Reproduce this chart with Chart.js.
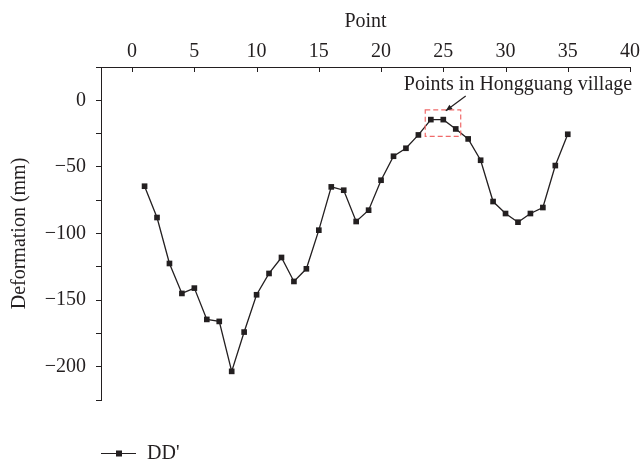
<!DOCTYPE html>
<html>
<head>
<meta charset="utf-8">
<script src="https://cdn.jsdelivr.net/npm/chart.js@4.4.1/dist/chart.umd.min.js"></script>
<style>
  html, body { margin: 0; padding: 0; background: #fff; }
  #wrap { width: 643px; height: 462px; position: relative; }
</style>
</head>
<body>
<div id="wrap"><canvas id="chart"></canvas></div>
<script>
'use strict';

// ── data ───────────────────────────────────────────────────────────────
const points = [1, 2, 3, 4, 5, 6, 7, 8, 9, 10, 11, 12, 13, 14, 15, 16, 17, 18,
  19, 20, 21, 22, 23, 24, 25, 26, 27, 28, 29, 30, 31, 32, 33, 34, 35];
const deformation = [-64.5, -88, -122.5, -145, -141, -164.5, -166, -203.5, -174,
  -146, -130, -118, -136, -126.5, -97.5, -65, -67.5, -91, -82.5, -60,
  -42, -36, -26, -14.5, -14.5, -21.5, -29, -45, -76, -85, -91.5, -85,
  -80.5, -49, -25.5];
const xTickValues = [0, 5, 10, 15, 20, 25, 30, 35, 40];
const yTickValues = [-225, -200, -175, -150, -125, -100, -75, -50, -25, 0, 25];
const yLabelValues = [0, -50, -100, -150, -200];
const seriesName = "DD'";
const noteText = 'Points in Hongguang village';

const INK = '#231f20';
const FONT = "'Liberation Serif', 'DejaVu Serif', serif";
const FS = 20;

// inward tick marks on the top axis, highlight box, arrow, note and legend
const extras = {
  id: 'extras',
  afterDraw(chart) {
    const { ctx, chartArea, scales: { x, y } } = chart;
    ctx.save();

    // x ticks pointing down into the plot
    ctx.strokeStyle = INK;
    ctx.lineWidth = 1;
    xTickValues.forEach(v => {
      const px = Math.round(x.getPixelForValue(v)) + 0.5;
      ctx.beginPath();
      ctx.moveTo(px, chartArea.top);
      ctx.lineTo(px, chartArea.top + 5);
      ctx.stroke();
    });

    // dashed red box around points 24–26
    const bx0 = x.getPixelForValue(23.55), bx1 = x.getPixelForValue(26.4);
    const by0 = y.getPixelForValue(-7.2), by1 = y.getPixelForValue(-27.1);
    ctx.strokeStyle = '#f06a6a';
    ctx.lineWidth = 1.2;
    ctx.setLineDash([5, 3]);
    ctx.strokeRect(bx0, by0, bx1 - bx0, by1 - by0);
    ctx.setLineDash([]);

    // arrow
    const ax0 = x.getPixelForValue(26.8), ay0 = y.getPixelForValue(3.2);
    const ax1 = x.getPixelForValue(25.2), ay1 = y.getPixelForValue(-7.8);
    ctx.strokeStyle = INK;
    ctx.fillStyle = INK;
    ctx.lineWidth = 1.2;
    ctx.beginPath();
    ctx.moveTo(ax0, ay0);
    ctx.lineTo(ax1, ay1);
    ctx.stroke();
    const ang = Math.atan2(ay1 - ay0, ax1 - ax0);
    ctx.beginPath();
    ctx.moveTo(ax1, ay1);
    ctx.lineTo(ax1 - 7 * Math.cos(ang - 0.4), ay1 - 7 * Math.sin(ang - 0.4));
    ctx.lineTo(ax1 - 7 * Math.cos(ang + 0.4), ay1 - 7 * Math.sin(ang + 0.4));
    ctx.closePath();
    ctx.fill();

    // note
    ctx.font = `${FS}px ${FONT}`;
    ctx.textAlign = 'center';
    ctx.textBaseline = 'middle';
    ctx.fillText(noteText, x.getPixelForValue(31.0), y.getPixelForValue(11.5));

    // legend, bottom left
    const ly = 453.5, lx = 101;
    ctx.beginPath();
    ctx.moveTo(lx, ly);
    ctx.lineTo(lx + 35, ly);
    ctx.stroke();
    ctx.fillRect(lx + 15, ly - 3, 6, 6);
    ctx.textAlign = 'left';
    ctx.fillText(seriesName, lx + 46, ly);

    ctx.restore();
  }
};

new Chart(document.getElementById('chart'), {
  type: 'line',
  data: {
    labels: points,
    datasets: [{
      label: seriesName,
      data: points.map((p, i) => ({ x: p, y: deformation[i] })),
      borderColor: INK,
      backgroundColor: INK,
      borderWidth: 1.3,
      pointStyle: 'rect',
      pointRadius: 4,
      pointBorderWidth: 0,
      tension: 0,
    }]
  },
  options: {
    responsive: true,
    maintainAspectRatio: false,
    animation: false,
    layout: { padding: { left: 0, right: 10, top: 0, bottom: 62 } },
    plugins: {
      legend: { display: false },
      tooltip: { enabled: false }
    },
    scales: {
      x: {
        type: 'linear',
        position: 'top',
        min: -2.5,
        max: 40,
        afterBuildTicks: s => { s.ticks = xTickValues.map(v => ({ value: v })); },
        afterFit: s => { s.height = 67; },
        border: { display: true, color: INK, width: 1 },
        grid: { display: true, drawOnChartArea: false, drawTicks: false, color: INK },
        ticks: { color: INK, font: { family: FONT, size: FS }, padding: 3, maxRotation: 0 },
        title: {
          display: true, text: 'Point', color: INK,
          font: { family: FONT, size: FS }, padding: { top: 10, bottom: 0 }
        }
      },
      y: {
        type: 'linear',
        min: -225,
        max: 25,
        afterBuildTicks: s => { s.ticks = yTickValues.map(v => ({ value: v })); },
        afterFit: s => { s.width = 101; },
        border: { display: true, color: INK, width: 1 },
        grid: { display: true, drawOnChartArea: false, drawTicks: true, tickLength: 5, color: INK },
        ticks: {
          color: INK,
          font: { family: FONT, size: FS },
          padding: 10,
          callback: v => yLabelValues.includes(v) ? String(v).replace('-', '\u2212') : ''
        },
        title: {
          display: true, text: 'Deformation (mm)', color: INK,
          font: { family: FONT, size: FS }, padding: { top: 8, bottom: 0 }
        }
      }
    }
  },
  plugins: [extras]
});
</script>
</body>
</html>
